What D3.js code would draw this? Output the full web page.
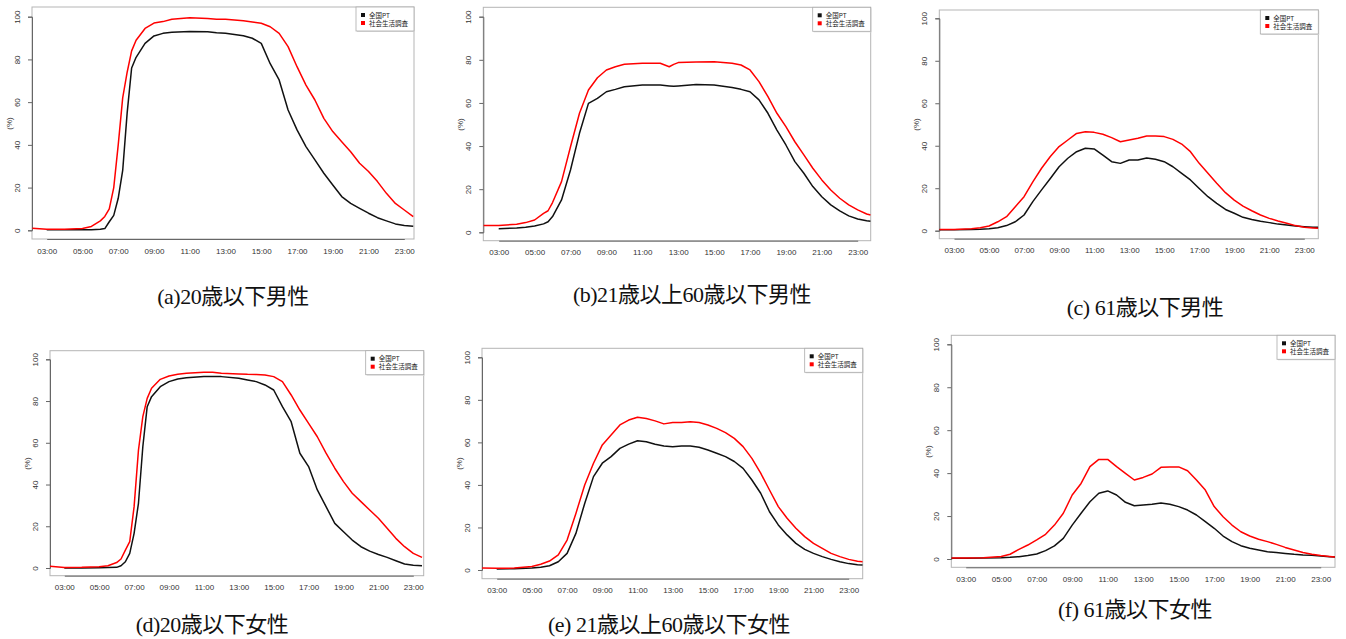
<!DOCTYPE html>
<html>
<head>
<meta charset="utf-8">
<script src="https://cdn.jsdelivr.net/npm/d3@7"></script>
<style>
  body { margin: 0; background: #fff; }
  svg { display: block; }
</style>
</head>
<body>
<svg id="chart" width="1346" height="639"></svg>
<script>
// legend / series names
var seriesNames = ["全国PT", "社会生活調査"];
var captions = ["(a)20歳以下男性", "(b)21歳以上60歳以下男性", "(c) 61歳以下男性",
                "(d)20歳以下女性", "(e) 21歳以上60歳以下女性", "(f) 61歳以下女性"];
var yTicks = [0, 20, 40, 60, 80, 100];
var xTickHours = [3, 5, 7, 9, 11, 13, 15, 17, 19, 21, 23];

// (a) 20歳以下男性
var hoursA = [2.2,3,4,5,5.5,6,6.25,6.5,6.75,7,7.25,7.5,7.75,8,8.5,9,9.5,10,11,12,12.5,13,14,14.5,15,15.5,16,16.5,17,17.5,18,18.5,19,19.5,20,20.5,21,21.5,22,22.5,23,23.5];
var ptA = [null,0.2,0.2,0.2,0.3,0.5,0.8,4,7,15,28,55,76,81,87.5,91,92.2,92.7,93.1,93,92.5,92.2,91.1,89.9,87.5,78,70.4,56.3,47,39.2,33,26.7,21.2,15.8,12.6,10.3,8,5.9,4.4,3,2.2,1.9];
var surveyA = [1.0,0.5,0.5,0.8,1.8,4.4,6.5,10,20,40,62,74,84,89,94.5,97,97.7,98.8,99.5,99.2,98.8,98.8,98.1,97.5,96.9,95.3,92.2,86,76.6,68,61,52.4,46.2,41.5,36.8,31.4,27.5,22.8,17.3,12.6,9.5,6.4];

// (b) 21歳以上60歳以下男性
var hoursB = [2.15,3,4,4.5,5,5.5,5.75,6,6.5,7,7.5,8,8.5,9,9.5,10,11,12,12.5,12.75,13,14,15,16,16.5,17,17.5,18,18.5,19,19.5,20,20.5,21,21.5,22,22.5,23,23.5,23.72];
var ptB = [null,1.7,2,2.3,2.9,3.9,4.9,7.3,15,28.9,45.9,59.8,62.1,65.2,66.3,67.5,68.3,68.3,67.9,67.7,67.9,68.6,68.3,67.2,66.3,65.2,61.4,55.2,47.4,40.5,32.8,27.4,21.2,16.5,12.7,9.9,7.6,6.2,5.4,5.1];
var surveyB = [3.2,3.2,3.7,4.5,5.7,8.8,10,13.8,23.5,39.7,55.2,66,71.7,75.3,76.8,77.9,78.4,78.4,76.8,77.9,78.7,79,79.1,78.4,77.6,75.3,69.9,62.9,55.2,49,42,35.9,29.7,24.3,19.6,15.8,12.7,10.4,8.5,8];

// (c) 61歳以下男性
var hoursC = [2.16,3,4,4.5,5,5.5,6,6.5,7,7.5,8,8.5,9,9.5,10,10.5,11,11.5,12,12.5,13,13.5,14,14.5,15,15.5,16,16.5,17,17.5,18,18.5,19,19.5,20,20.5,21,21.5,22,22.5,23,23.5,23.8];
var ptC = [0.5,0.5,0.6,0.7,0.9,1.4,2.4,4.2,7.4,13.7,19.2,24.6,30.1,34.1,37.2,38.8,38.5,35.6,32.5,31.7,33.3,33.3,34.2,33.6,32.5,30.1,27,23.9,19.9,16,12.9,10,8.2,6.3,5.3,4.4,3.8,3.1,2.7,2.2,1.9,1.6,1.6];
var surveyC = [0.6,0.6,0.9,1.4,2.2,4.2,6.6,11.3,16,23,29.4,34.9,39.6,42.7,45.8,46.6,46.3,45.4,43.8,41.9,42.7,43.5,44.6,44.6,44.3,43,40.8,37.2,31.7,27,22.3,17.9,14.4,11.6,9.4,7.4,5.8,4.6,3.5,2.4,1.6,1.3,1.1];

// (d) 20歳以下女性
var hoursD = [2.18,3,4,5,5.5,6,6.25,6.5,6.75,7,7.25,7.5,7.75,8,8.5,9,9.5,10,11,11.5,12,13,13.5,14,14.5,15,15.5,16,16.5,17,17.5,18,18.5,19,19.5,20,20.5,21,21.5,22,22.5,23,23.5];
var ptD = [null,0,0,0.1,0.2,0.3,1.1,3,7,16.6,31,58.1,77.3,82.1,86.9,89.3,90.6,91.2,91.7,91.7,91.7,90.9,90.1,89.3,87.7,85.3,77.3,70.1,55,48.6,37.4,29.4,21.4,17.4,13.4,10.2,8.1,6.5,5.1,3.5,1.9,1.3,1.1];
var surveyD = [0.8,0.2,0.3,0.6,1.1,2.6,4.3,8.6,12.6,29.4,56.5,72.5,81.3,86.1,90.4,92,92.8,93.3,93.8,93.8,93.3,93,92.8,92.7,92.5,91.7,89.3,82.9,75.7,69.3,62.9,55,47.8,41.4,35.8,31.8,27.8,23.8,19,14.2,10.2,7,5.1];

// (e) 21歳以上60歳以下女性
var hoursE = [2.17,3,4,5,5.5,6,6.5,7,7.5,8,8.5,9,9.5,10,10.5,11,11.5,12,12.5,13,13.5,14,14.5,15,15.5,16,16.5,17,17.5,18,18.5,19,19.5,20,20.5,21,21.5,22,22.5,23,23.5,23.8];
var ptE = [null,0.5,0.6,0.9,1.3,2,3.9,7.8,17.2,31.3,43.9,50.2,53.3,57.2,59.2,60.8,60.3,59.1,58.3,58,58.3,58.3,57.7,56.4,54.9,53.3,51,47.8,42.3,36.1,27.4,21.2,16.5,12.5,9.7,7.8,6.3,5,3.9,3,2.5,2.4];
var surveyE = [0.9,0.8,0.9,1.6,2.7,4.2,7.1,14.1,26.6,40,50.2,58.8,63.5,68.2,70.5,71.8,71.2,70.1,68.7,69.3,69.3,69.7,69.3,68.2,66.6,64.6,61.9,58,52.5,45.5,37.6,29.8,24.3,19.6,15.7,12.5,10.2,7.8,6.3,5,4.1,3.9];

// (f) 61歳以下女性
var hoursF = [2.19,3,4,5,5.5,6,6.5,7,7.5,8,8.5,9,9.5,10,10.5,11,11.5,12,12.5,13,13.5,14,14.5,15,15.5,16,16.5,17,17.5,18,18.5,19,19.5,20,20.5,21,21.5,22,22.5,23,23.5,23.81];
var ptF = [0.3,0.3,0.5,0.6,0.8,1.1,1.6,2.3,3.9,6.1,9.6,15.8,21.3,26.7,30.6,31.7,29.8,26.4,24.8,25.2,25.5,26.1,25.5,24.4,22.8,20.5,17.4,14.3,10.7,8.1,6.2,5,4.2,3.4,3,2.6,2.2,1.9,1.7,1.4,1.1,0.9];
var surveyF = [0.5,0.5,0.6,1.2,2.2,4.5,6.5,8.9,11.5,15.8,21.3,29.8,35.2,43,46.4,46.4,43,39.9,36.8,38,39.6,42.7,42.9,42.9,41.1,36.8,32.1,24.4,19.7,15.8,12.7,10.7,9.2,8.1,6.8,5.4,4.2,3,2.2,1.6,1.2,0.9];

// panel layout in page pixels: frame box, where 03:00/23:00 and 0/100 fall, caption spot
var panels = [
  {hours: hoursA, pt: ptA, survey: surveyA, L: 32,    T: 7,     R: 414,    B: 239,   x3: 46.7,  x23: 404.3,  y0: 230.3, y100: 16.7,  cx: 233,  cy: 304},
  {hours: hoursB, pt: ptB, survey: surveyB, L: 483.3, T: 7.3,   R: 870.7,  B: 240.7, x3: 498.7, x23: 857.7,  y0: 232.3, y100: 16.7,  cx: 692,  cy: 302},
  {hours: hoursC, pt: ptC, survey: surveyC, L: 939.3, T: 10,    R: 1318.3, B: 238.7, x3: 954,   x23: 1304.3, y0: 230.7, y100: 18.3,  cx: 1145, cy: 315},
  {hours: hoursD, pt: ptD, survey: surveyD, L: 50,    T: 350.7, R: 423.7,  B: 575.7, x3: 64.3,  x23: 413.3,  y0: 568,   y100: 359.3, cx: 212,  cy: 632},
  {hours: hoursE, pt: ptE, survey: surveyE, L: 482,   T: 348.3, R: 862.7,  B: 578.7, x3: 496.7, x23: 848.7,  y0: 570,   y100: 357.3, cx: 669,  cy: 632},
  {hours: hoursF, pt: ptF, survey: surveyF, L: 951.3, T: 335.3, R: 1335,   B: 567.3, x3: 965.7, x23: 1320.7, y0: 559,   y100: 344.3, cx: 1135, cy: 617}
];

var svg = d3.select("#chart");
var tickFont = "Arial, 'Liberation Sans', sans-serif";
var colors = ["#111", "#ff0000"];

panels.forEach(function(p, i) {
  var x = d3.scaleLinear().domain([3, 23]).range([p.x3, p.x23]);
  var y = d3.scaleLinear().domain([0, 100]).range([p.y0, p.y100]);
  var g = svg.append("g");

  g.append("clipPath").attr("id", "clip" + i)
    .append("rect").attr("x", p.L).attr("y", p.T).attr("width", p.R - p.L).attr("height", p.B - p.T);

  // frame
  g.append("rect")
    .attr("x", p.L).attr("y", p.T).attr("width", p.R - p.L).attr("height", p.B - p.T)
    .attr("fill", "#fff").attr("stroke", "#b5b5b5").attr("stroke-width", 1);

  // y axis (R style, labels rotated)
  var yAxis = g.append("g").attr("transform", "translate(" + p.L + ",0)")
    .call(d3.axisLeft(y).tickValues(yTicks).tickSize(4).tickPadding(6).tickFormat(d3.format("d")));
  yAxis.select(".domain").attr("stroke", "#666");
  yAxis.selectAll(".tick line").attr("stroke", "#666");
  yAxis.selectAll("text")
    .attr("font-family", tickFont).attr("font-size", 8).attr("fill", "#333")
    .attr("text-anchor", "middle").attr("dy", 0).attr("x", 0)
    .attr("transform", "translate(-12,0) rotate(-90)");

  // x axis (no tick marks)
  var xAxis = g.append("g").attr("transform", "translate(0," + p.B + ")")
    .call(d3.axisBottom(x).tickValues(xTickHours).tickSize(0).tickPadding(9)
      .tickFormat(function(h) { return (h < 10 ? "0" : "") + h + ":00"; }));
  xAxis.select(".domain").attr("stroke", "#666");
  xAxis.selectAll("text").attr("font-family", tickFont).attr("font-size", 8).attr("fill", "#333");

  // y label
  g.append("text")
    .attr("transform", "translate(" + (p.L - 20) + "," + ((p.y0 + p.y100) / 2) + ") rotate(-90)")
    .attr("text-anchor", "middle")
    .attr("font-family", tickFont).attr("font-size", 8).attr("fill", "#333")
    .text("(%)");

  // lines
  var line = d3.line()
    .defined(function(d) { return d[1] != null; })
    .x(function(d) { return x(d[0]); })
    .y(function(d) { return y(d[1]); });

  var lines = g.append("g").attr("clip-path", "url(#clip" + i + ")");
  [p.pt, p.survey].forEach(function(vals, k) {
    lines.append("path")
      .datum(p.hours.map(function(h, j) { return [h, vals[j]]; }))
      .attr("fill", "none")
      .attr("stroke", colors[k])
      .attr("stroke-width", 1.5)
      .attr("stroke-linejoin", "round")
      .attr("d", line);
  });

  // legend
  var lw = 58, lh = 24;
  var lg = g.append("g").attr("transform", "translate(" + (p.R - lw) + "," + p.T + ")");
  lg.append("rect").attr("x", 1).attr("y", 1).attr("width", lw).attr("height", lh).attr("fill", "#ddd");
  lg.append("rect").attr("width", lw).attr("height", lh).attr("fill", "#fff").attr("stroke", "#aaa").attr("stroke-width", 0.8);
  seriesNames.forEach(function(name, k) {
    lg.append("rect").attr("x", 5).attr("y", 6 + k * 8).attr("width", 4).attr("height", 4).attr("fill", colors[k]);
    lg.append("text").attr("x", 13).attr("y", 10.5 + k * 8)
      .attr("font-family", "'Noto Sans CJK JP', sans-serif").attr("font-size", 6.5).attr("fill", "#222")
      .text(name);
  });

  // caption
  svg.append("text")
    .attr("x", p.cx).attr("y", p.cy)
    .attr("text-anchor", "middle")
    .attr("font-family", "'Liberation Serif', 'Noto Sans CJK JP', serif")
    .attr("font-size", 22).attr("fill", "#111")
    .attr("letter-spacing", -0.5)
    .text(captions[i]);
});
</script>
</body>
</html>
